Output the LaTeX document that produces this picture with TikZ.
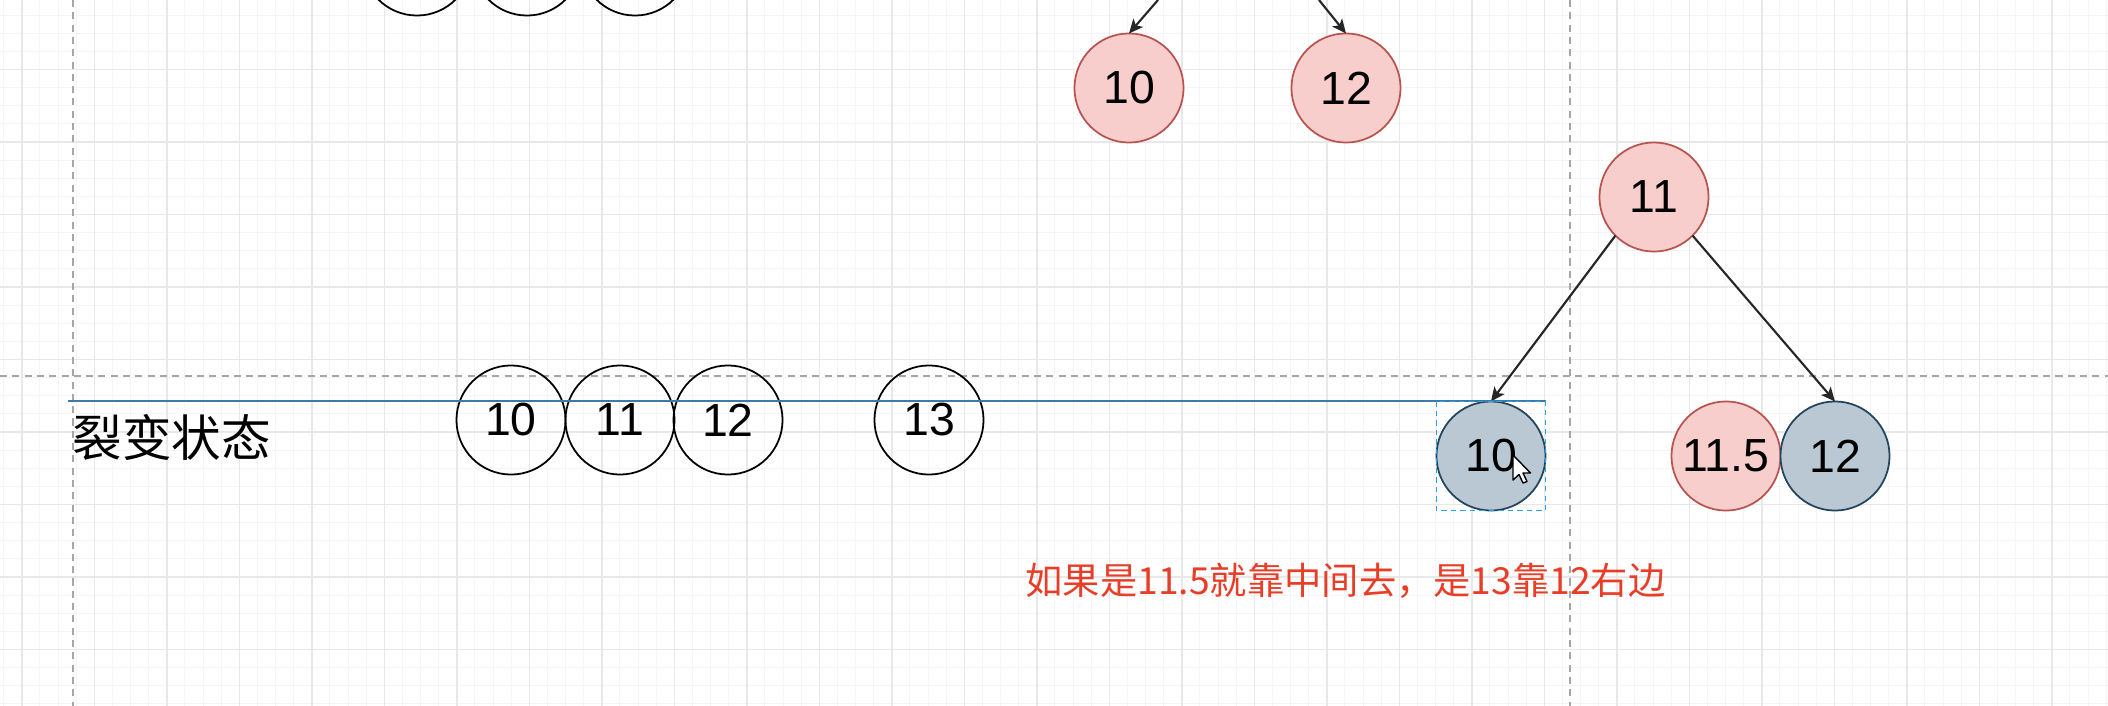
\documentclass[tikz,border=0pt]{standalone}
\usepackage{fontspec}
\setmainfont{Liberation Sans}
\newfontfamily\cjk{Noto Sans CJK SC}
\usepackage{tikz}
\usepackage{xcolor}
\definecolor{redfill}{RGB}{248, 206, 204}
\definecolor{redline}{RGB}{184, 84, 80}
\definecolor{bluefill}{RGB}{186, 200, 211}
\definecolor{blueline}{RGB}{35, 68, 93}
\definecolor{rowblue}{RGB}{62, 122, 165}
\definecolor{selblue}{RGB}{40, 165, 225}
\definecolor{notered}{RGB}{232, 62, 40}
\definecolor{gridmin}{RGB}{245, 245, 245}
\definecolor{gridmaj}{RGB}{232, 232, 232}
\usetikzlibrary{arrows.meta, positioning}

\begin{document}
\begin{tikzpicture}[x=0.01cm, y=-0.01cm,
    num/.style={circle, draw=black, line width=0.5pt, minimum size=1.09cm,
      inner sep=0pt, outer sep=0pt, font=\fontsize{13.2}{15}\selectfont},
    rednum/.style={num, draw=redline, fill=redfill},
    bluenum/.style={num, draw=blueline, fill=bluefill},
    link/.style={draw=black!85, line width=0.6pt,
      -{Stealth[length=4pt, width=3.6pt, inset=1pt]}},
    guide/.style={draw=black!35, line width=0.4pt, dash pattern=on 2pt off 1.5pt}]
    \useasboundingbox (0,0) rectangle (2108,706);
    \clip (0,0) rectangle (2108,706);
    \fill[white] (0,0) rectangle (2108,706);
    % grid
    \foreach \i in {0,...,116} \draw[gridmin, line width=0.3pt] ({3.675+\i*18.125},0) -- ++(0,706);
    \foreach \i in {0,...,39} \draw[gridmin, line width=0.3pt] (0,{15.125+\i*18.125}) -- ++(2108,0);
    \foreach \i in {0,...,29} \draw[gridmaj, line width=0.4pt] ({21.8+\i*72.5},0) -- ++(0,706);
    \foreach \i in {-1,...,9} \draw[gridmaj, line width=0.4pt] (0,{69.5+\i*72.5}) -- ++(2108,0);
    % guides
    \draw[guide] (73,0) -- (73,706);
    \draw[guide] (1570,0) -- (1570,706);
    \draw[guide] (0,376) -- (2108,376);
    % upper row, cut by the top edge
    \foreach \n/\x in {o1/417, o2/527, o3/635} {
      \node[num] (\n) at (\x,-39) {};
    }
    % upper tree
    \node[rednum] (t10) at (1129,88) {10};
    \node[rednum] (t12) at (1346,88) {12};
    \coordinate (u1) at (1158,0);
    \coordinate (u2) at (1319,0);
    \draw[link] (u1) -- (t10.north);
    \draw[link] (u2) -- (t12.north);
    % split state
    \node[font=\cjk\fontsize{14.1}{16}\selectfont, anchor=west, inner sep=0pt] (state) at (72,437) {裂变状态};
    \foreach \n/\x/\t in {a10/511/10, a11/620/11, a12/728/12, a13/929/13} {
      \node[num] (\n) at (\x,420) {\t};
    }
    % lower tree
    \node[rednum] (p11) at (1654,197) {11};
    \node[bluenum] (c10) at (1491,456) {10};
    \node[rednum] (c115) at (1726,456) {11.5};
    \node[bluenum] (c12) at (1835,456) {12};
    \draw[link] (p11.south west) -- (c10.north);
    \draw[link] (p11.south east) -- (c12.north);
    \coordinate (b0) at (68,401);
    \coordinate (b1) at (1546,401);
    \draw[draw=rowblue, line width=0.6pt] (b0) -- (b1);
    % selection and pointer
    \draw[selblue, line width=0.4pt, dash pattern=on 1.5pt off 1.2pt]
      (c10.west |- c10.north) rectangle (c10.east |- c10.south);
    \draw[fill=white, line width=0.4pt, line join=round, shift={(1513,455)}]
      (0,0) -- (0,25) -- (6,19.5) -- (10,28) -- (14,26.5) -- (10,18) -- (17.5,18) -- cycle;
    % note
    \node[font=\cjk\fontsize{10.6}{12}\selectfont, text=notered, anchor=west, inner sep=0pt] (note)
      at (1025,581) {如果是11.5就靠中间去，是13靠12右边};
\end{tikzpicture}
\end{document}
